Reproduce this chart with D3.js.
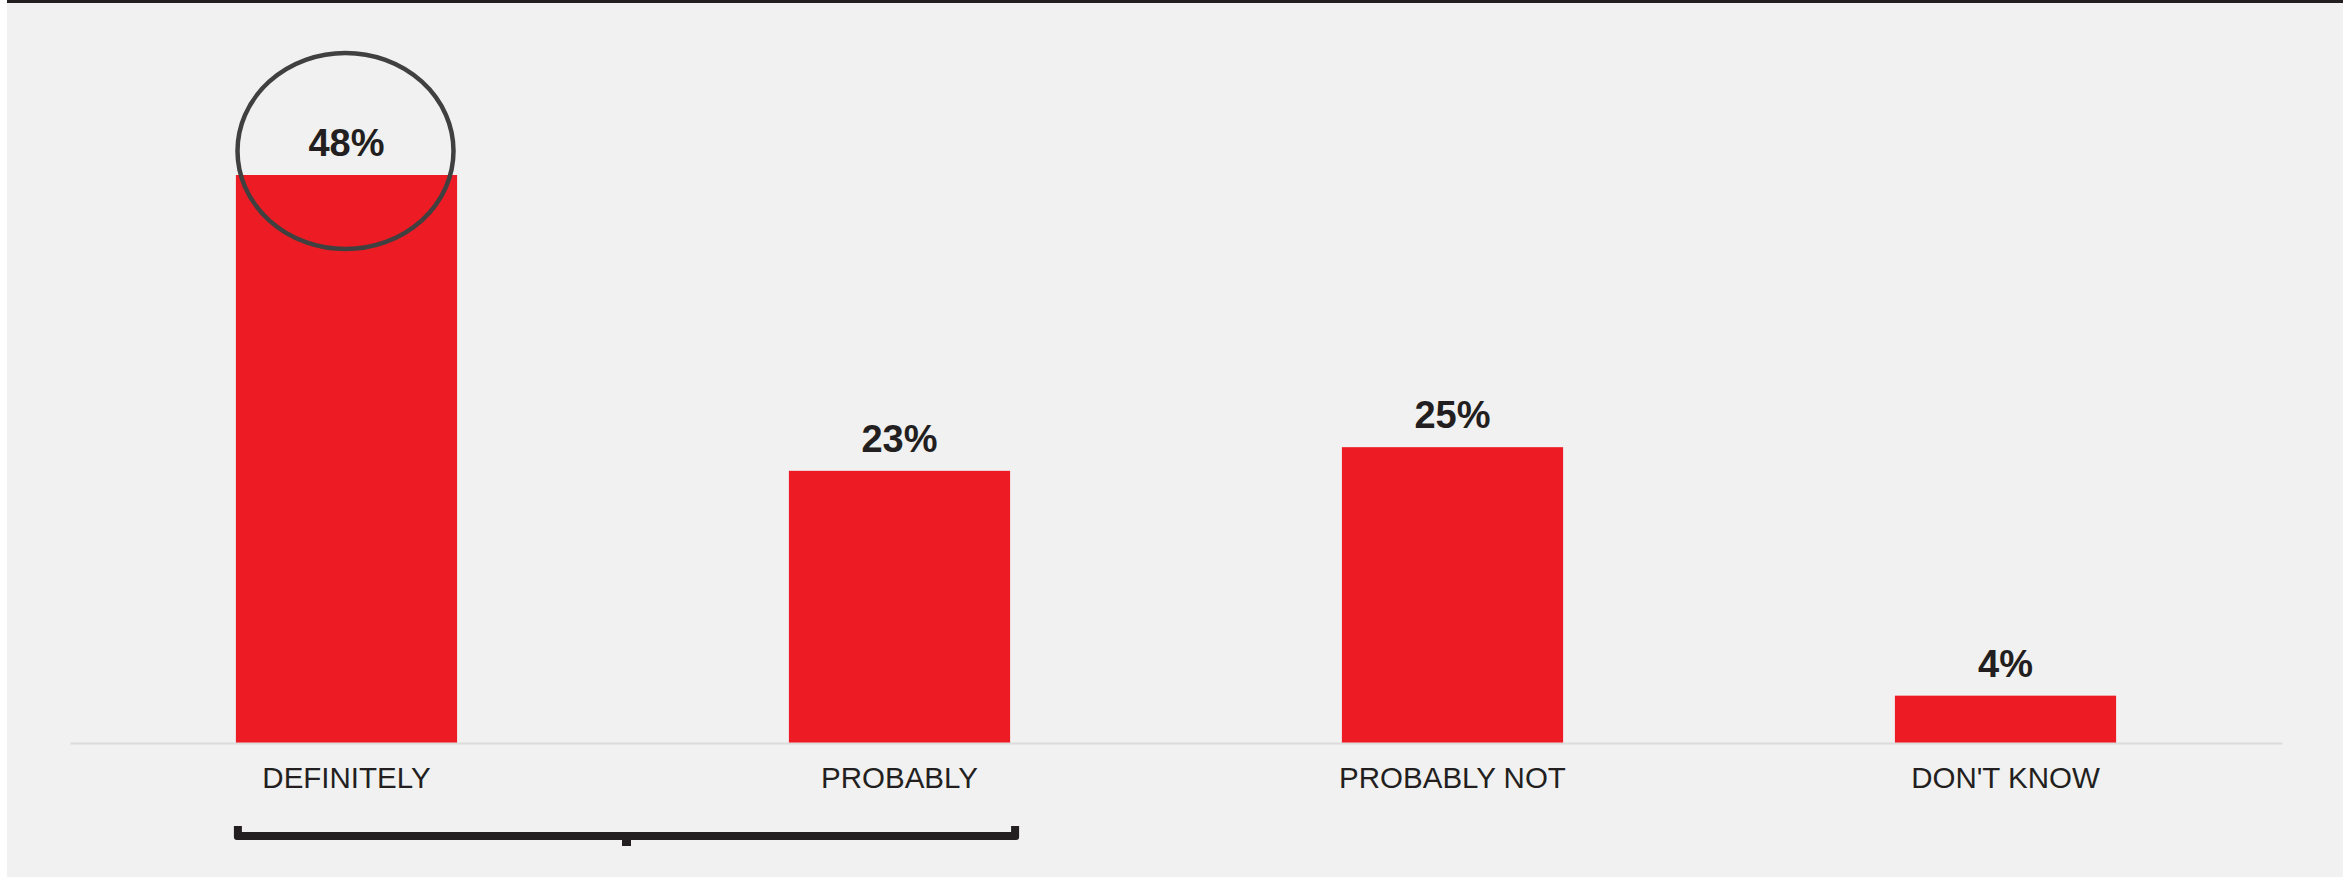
<!DOCTYPE html>
<html>
<head>
<meta charset="utf-8">
<script src="https://cdn.jsdelivr.net/npm/d3@7/dist/d3.min.js"></script>
<style>
  html, body { margin: 0; padding: 0; background: #ffffff; }
  svg { display: block; }
</style>
</head>
<body>
<script>
const categories = ["DEFINITELY", "PROBABLY", "PROBABLY NOT", "DON'T KNOW"];
const values = [48, 23, 25, 4];
const valueLabels = ["48%", "23%", "25%", "4%"];
const highlighted = ["DEFINITELY"];
const bracketed = ["DEFINITELY", "PROBABLY"];

(function () {
const W = 2343, H = 877;
const svg = d3.select("body").append("svg").attr("width", W).attr("height", H);

// background panel
svg.append("rect").attr("x", 7).attr("y", 0).attr("width", W - 7).attr("height", H).attr("fill", "#f1f1f1");
svg.append("rect").attr("x", 7).attr("y", 0).attr("width", W - 7).attr("height", 3).attr("fill", "#231f20");

const font = "'Liberation Sans', Arial, Helvetica, sans-serif";

const x = d3.scaleBand().domain(categories).range([70, 2282]).paddingInner(0.6).paddingOuter(0.3);
const y = d3.scaleLinear().domain([0, 48]).range([743, 175]);

// bars
svg.append("g").selectAll("rect").data(categories).join("rect")
  .attr("x", d => x(d))
  .attr("y", (d, i) => y(values[i]))
  .attr("width", x.bandwidth())
  .attr("height", (d, i) => y(0) - y(values[i]))
  .attr("fill", "#ed1c24");

// baseline axis
const axis = svg.append("g").attr("transform", `translate(0,${y(0)})`)
  .call(d3.axisBottom(x).tickSize(0).tickPadding(0));
axis.select(".domain").attr("stroke", "#dcdcdc").attr("stroke-width", 2);
axis.selectAll("text").remove();

// category labels
svg.append("g").selectAll("text").data(categories).join("text")
  .attr("x", d => x(d) + x.bandwidth() / 2)
  .attr("y", 788)
  .attr("text-anchor", "middle")
  .attr("font-family", font)
  .attr("font-size", 29.5)
  .attr("fill", "#231f20")
  .text(d => d);

// value labels
svg.append("g").selectAll("text").data(categories).join("text")
  .attr("x", d => x(d) + x.bandwidth() / 2)
  .attr("y", (d, i) => y(values[i]) - 19)
  .attr("text-anchor", "middle")
  .attr("font-family", font)
  .attr("font-weight", "bold")
  .attr("font-size", 38)
  .attr("fill", "#231f20")
  .text((d, i) => valueLabels[i]);

// highlight ellipse
highlighted.forEach(c => {
  const i = categories.indexOf(c);
  svg.append("ellipse")
    .attr("cx", x(c) + x.bandwidth() / 2 - 1)
    .attr("cy", y(values[i]) - 24)
    .attr("rx", 108)
    .attr("ry", 98)
    .attr("fill", "none")
    .attr("stroke", "#404040")
    .attr("stroke-width", 4.5);
});

// bracket under first two categories
const bx0 = x(bracketed[0]) - 2;
const bx1 = x(bracketed[bracketed.length - 1]) + x.bandwidth() + 9;
const bTop = 826, bBot = 840, th = 8;
const mid = (bx0 + bx1) / 2;
const p = d3.path();
p.moveTo(bx0, bTop);
p.lineTo(bx0 + th, bTop);
p.lineTo(bx0 + th, bBot - th);
p.lineTo(bx1 - th, bBot - th);
p.lineTo(bx1 - th, bTop);
p.lineTo(bx1, bTop);
p.lineTo(bx1, bBot - 3);
p.quadraticCurveTo(bx1, bBot, bx1 - 3, bBot);
p.lineTo(mid + 4.5, bBot);
p.lineTo(mid + 4.5, bBot + 6);
p.lineTo(mid - 4.5, bBot + 6);
p.lineTo(mid - 4.5, bBot);
p.lineTo(bx0 + 3, bBot);
p.quadraticCurveTo(bx0, bBot, bx0, bBot - 3);
p.closePath();
svg.append("path").attr("d", p.toString()).attr("fill", "#231f20");
})();
</script>
</body>
</html>
